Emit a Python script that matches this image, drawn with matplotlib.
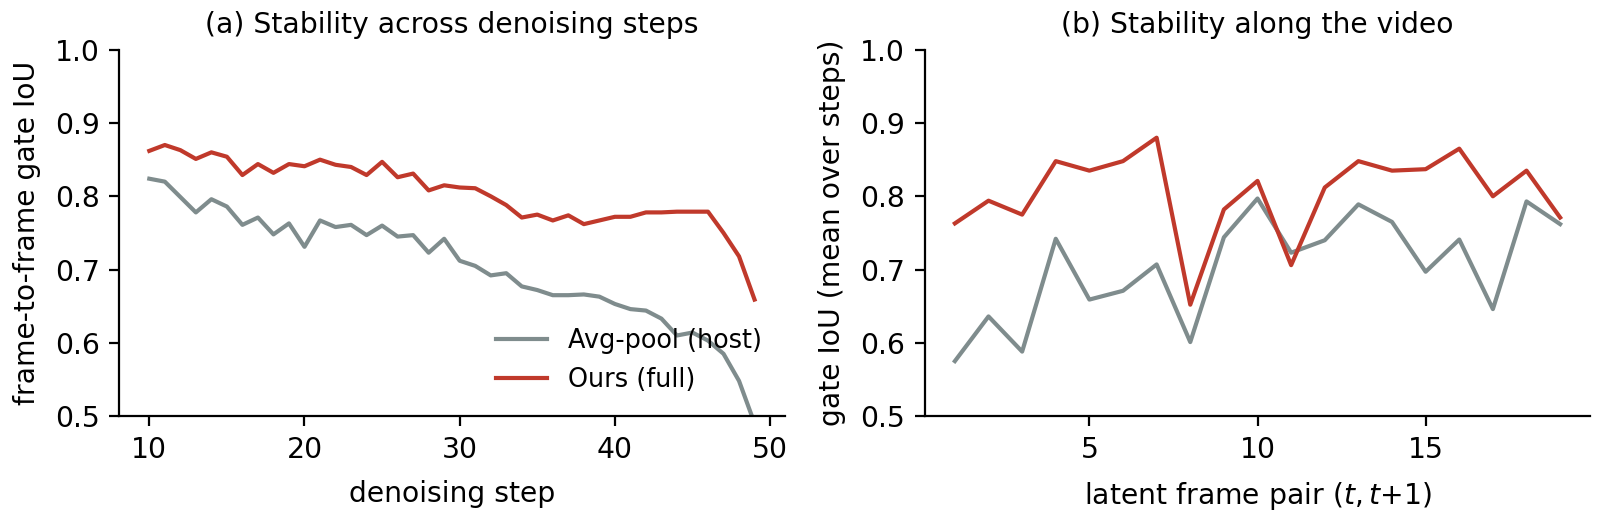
import matplotlib
matplotlib.use("Agg")
import matplotlib.pyplot as plt

RED = "#c0392b"
GRAY = "#7f8c8d"

# (a) gate IoU between neighbouring frames, per denoising step
steps = list(range(10, 50))
ours_steps = [0.862, 0.870, 0.863, 0.851, 0.860, 0.854, 0.829, 0.844, 0.832, 0.844,
              0.841, 0.850, 0.843, 0.840, 0.829, 0.847, 0.826, 0.831, 0.808, 0.815,
              0.812, 0.811, 0.800, 0.788, 0.771, 0.775, 0.767, 0.774, 0.762, 0.767,
              0.772, 0.772, 0.778, 0.778, 0.779, 0.779, 0.779, 0.750, 0.718, 0.659]
avg_steps = [0.824, 0.820, 0.799, 0.778, 0.796, 0.786, 0.761, 0.771, 0.748, 0.763,
             0.731, 0.767, 0.758, 0.761, 0.747, 0.760, 0.745, 0.747, 0.723, 0.742,
             0.712, 0.705, 0.692, 0.695, 0.677, 0.672, 0.665, 0.665, 0.666, 0.663,
             0.653, 0.646, 0.644, 0.633, 0.610, 0.614, 0.603, 0.585, 0.548, 0.490]

# (b) gate IoU per latent frame pair, averaged over steps
pairs = list(range(1, 20))
ours_pairs = [0.763, 0.794, 0.775, 0.848, 0.835, 0.848, 0.880, 0.652, 0.782, 0.821,
              0.706, 0.812, 0.848, 0.835, 0.837, 0.865, 0.800, 0.835, 0.771]
avg_pairs = [0.575, 0.636, 0.588, 0.742, 0.659, 0.671, 0.707, 0.601, 0.744, 0.797,
             0.723, 0.740, 0.789, 0.765, 0.697, 0.741, 0.646, 0.793, 0.762]

plt.rcParams["font.size"] = 10.2
plt.rcParams["axes.titlesize"] = 10.2
plt.rcParams["xtick.labelsize"] = 10.2
plt.rcParams["ytick.labelsize"] = 10.2
plt.rcParams["legend.fontsize"] = 9.2

fig, (ax1, ax2) = plt.subplots(1, 2, figsize=(8, 2.62), dpi=200)
fig.subplots_adjust(left=0.0744, right=0.994, bottom=0.206, top=0.905, wspace=0.21)

ax1.plot(steps, avg_steps, color=GRAY, lw=1.5, label="Avg-pool (host)")
ax1.plot(steps, ours_steps, color=RED, lw=1.5, label="Ours (full)")
ax1.set_ylim(0.5, 1.0)
ax1.set_xlabel("denoising step", labelpad=6)
ax1.set_ylabel("frame-to-frame gate IoU", labelpad=5)
ax1.set_title("(a) Stability across denoising steps")
ax1.legend(loc="lower right", frameon=False)

ax2.plot(pairs, avg_pairs, color=GRAY, lw=1.5)
ax2.plot(pairs, ours_pairs, color=RED, lw=1.5)
ax2.set_ylim(0.5, 1.0)
ax2.set_xticks([5, 10, 15])
ax2.set_xlabel("latent frame pair $(t, t{+}1)$", labelpad=6)
ax2.set_ylabel("gate IoU (mean over steps)", labelpad=5)
ax2.set_title("(b) Stability along the video")

for ax in (ax1, ax2):
    ax.spines["top"].set_visible(False)
    ax.spines["right"].set_visible(False)

fig.savefig("out.png", dpi=200)
